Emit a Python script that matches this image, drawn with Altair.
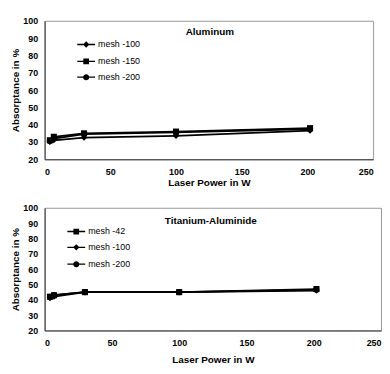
import altair as alt
import pandas as pd

power = [4, 7, 30, 100, 202]

al_series = ["mesh -100", "mesh -150", "mesh -200"]
al_m100 = [30.0, 31.0, 32.5, 33.5, 36.5]
al_m150 = [31.0, 33.0, 35.0, 36.0, 38.0]
al_m200 = [30.5, 32.0, 34.5, 35.5, 37.5]

ti_series = ["mesh -42", "mesh -100", "mesh -200"]
ti_m42 = [42.0, 43.0, 45.0, 45.0, 47.0]
ti_m100 = [41.0, 42.0, 45.0, 45.0, 46.0]
ti_m200 = [42.0, 43.0, 45.0, 45.0, 46.5]

x_ticks = [0, 50, 100, 150, 200, 250]
y_ticks = [20, 30, 40, 50, 60, 70, 80, 90, 100]

FONT = "Liberation Sans"

al_shapes = ["diamond", "square", "circle"]
ti_shapes = ["square", "diamond", "circle"]

# legend symbols: a short filled bar with the marker on it
BAR = "M-1,-0.075L1,-0.075L1,0.075L-1,0.075Z"
L_DIAMOND = BAR + "M0,-0.36L0.36,0L0,0.36L-0.36,0Z"
L_SQUARE = BAR + "M-0.32,-0.32L0.32,-0.32L0.32,0.32L-0.32,0.32Z"
L_CIRCLE = BAR + "M0.34,0A0.34,0.34,0,1,1,-0.34,0A0.34,0.34,0,1,1,0.34,0Z"
LINE_SHAPES = {"diamond": L_DIAMOND, "square": L_SQUARE, "circle": L_CIRCLE}


def frame(names, values):
    rows = []
    for n, vals in zip(names, values):
        for p, v in zip(power, vals):
            rows.append({"power": p, "abs": v, "series": n})
    return pd.DataFrame(rows)


def panel(df, names, shapes, title, xtitle, w, h, title_x, title_y,
          leg_x, leg_y, row_pad, xtitle_pad):
    x = alt.X("power:Q", scale=alt.Scale(domain=[0, 250], nice=False),
              axis=alt.Axis(values=x_ticks, title=xtitle, grid=False, ticks=False,
                            labelPadding=8, titlePadding=xtitle_pad, domainColor="#333"))
    y = alt.Y("abs:Q", scale=alt.Scale(domain=[20, 100], nice=False),
              axis=alt.Axis(values=y_ticks, title="Absorptance in %", grid=False, ticks=False,
                            labelPadding=7, titlePadding=2, domainColor="#333"))
    base = alt.Chart(df)
    lines = base.mark_line(color="black", strokeWidth=1.8).encode(
        x=x, y=y, detail="series:N")
    pts = base.mark_point(filled=True, color="black", opacity=1, size=38).encode(
        x=x, y=y,
        shape=alt.Shape("series:N", scale=alt.Scale(domain=names, range=shapes),
                        legend=None))
    leg = alt.Chart(pd.DataFrame({"key": names})).transform_filter("false").mark_point(
        filled=True, color="black", opacity=1, size=324
    ).encode(
        shape=alt.Shape("key:N",
                        scale=alt.Scale(domain=names, range=[LINE_SHAPES[s] for s in shapes]),
                        legend=alt.Legend(
                            title=None, orient="none", legendX=leg_x, legendY=leg_y,
                            padding=0, symbolSize=324, symbolFillColor="black",
                            labelFontSize=9, labelFont=FONT, labelColor="black",
                            rowPadding=row_pad, labelOffset=2)))
    ttl = alt.Chart(pd.DataFrame({"t": [title]})).mark_text(
        font=FONT, fontWeight="bold", fontSize=10, color="black", align="center",
        baseline="middle"
    ).encode(text="t:N", x=alt.value(title_x), y=alt.value(title_y))
    return alt.layer(lines, pts, leg, ttl).resolve_scale(shape="independent").properties(
        width=w, height=h)


top = panel(frame(al_series, [al_m100, al_m150, al_m200]), al_series, al_shapes,
            "Aluminum", "Laser Power in  W", 332, 140, 167, 11, 32, 14, -2.5, 1)
bottom = panel(frame(ti_series, [ti_m42, ti_m100, ti_m200]), ti_series, ti_shapes,
               "Titanium-Aluminide", "Laser Power in W", 340, 124, 168, 13, 22, 14, -2, 7)

chart = alt.vconcat(top, bottom, spacing=15).resolve_scale(shape="independent").configure_view(
    stroke="#999", strokeWidth=1
).configure_axis(
    labelFont=FONT, labelFontSize=9, labelFontWeight="bold", labelColor="black",
    titleFont=FONT, titleFontSize=10, titleFontWeight="bold", titleColor="black"
).properties(padding={"left": 2, "top": 6, "right": 0, "bottom": 0})

chart.save("out.html", embed_options={"renderer": "svg", "actions": False})
